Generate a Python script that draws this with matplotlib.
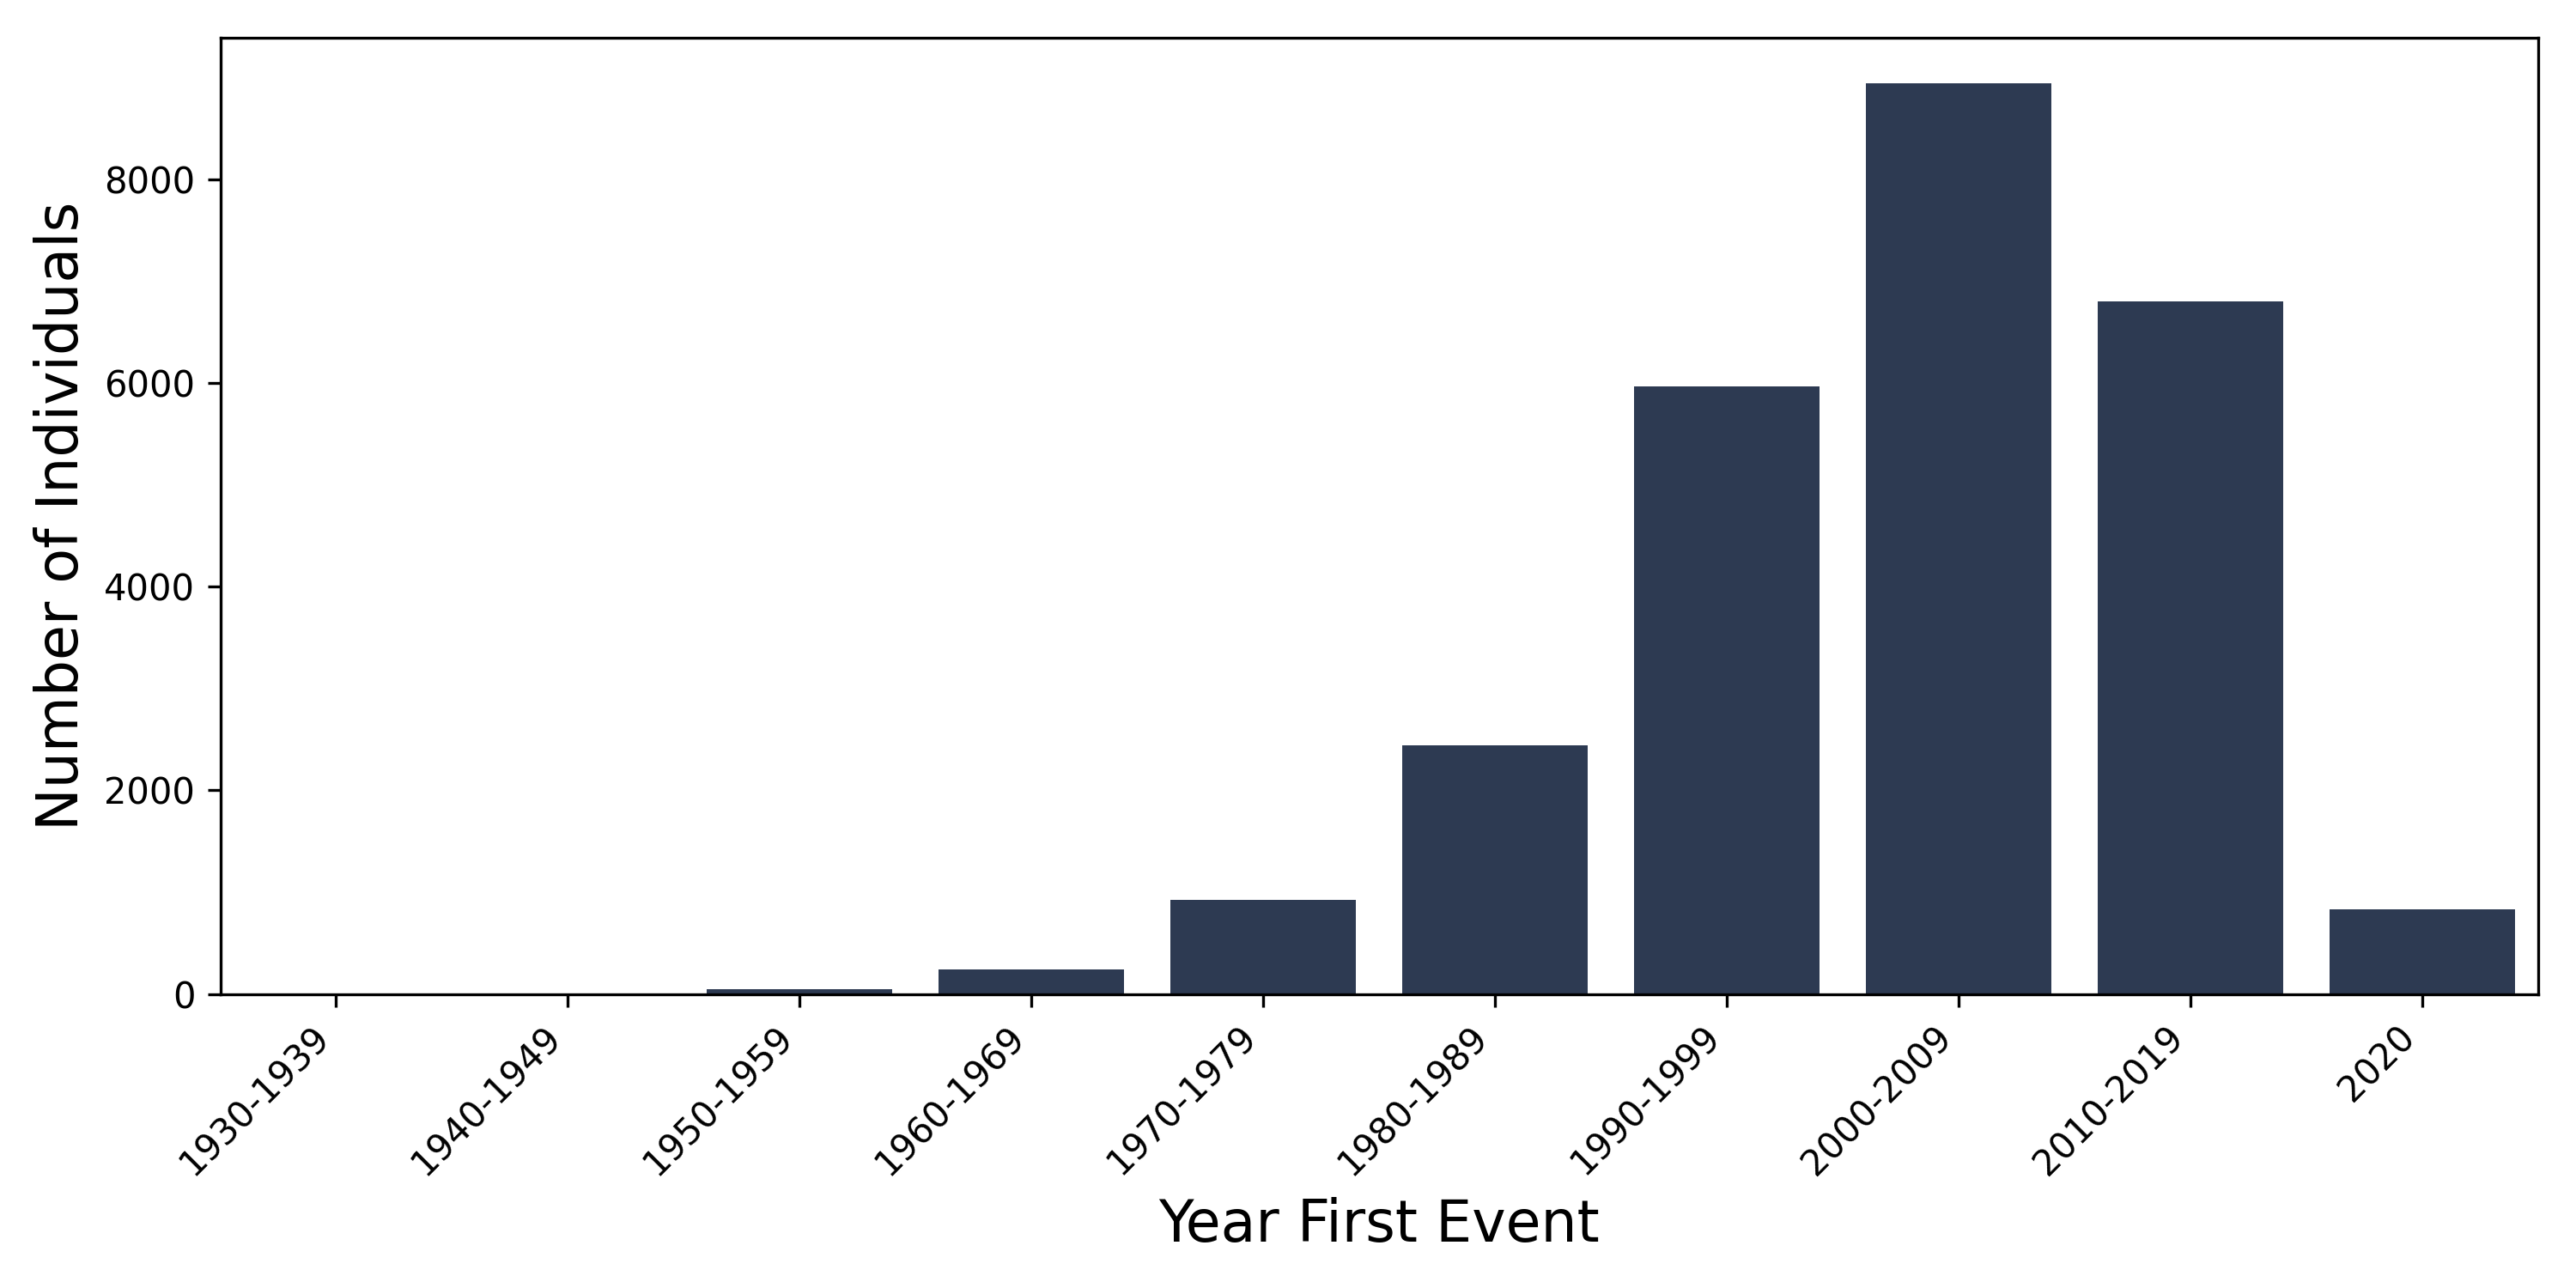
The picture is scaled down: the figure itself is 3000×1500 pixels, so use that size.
import matplotlib
matplotlib.use("Agg")
import matplotlib.pyplot as plt

# decade buckets of first event
decades = ['1930-1939', '1940-1949', '1950-1959', '1960-1969', '1970-1979',
           '1980-1989', '1990-1999', '2000-2009', '2010-2019', '2020']
counts = [1, 3, 45, 242, 921, 2440, 5965, 8947, 6801, 835]

bar_color = '#2d3a52'

fig, ax = plt.subplots(figsize=(10, 5), dpi=300)
fig.subplots_adjust(left=0.0855, right=0.9853, top=0.971, bottom=0.2283)

x = range(len(decades))
ax.bar(x, counts, width=0.8, color=bar_color)
ax.set_xlim(-0.5, len(decades) - 0.5)
ax.set_ylim(0, max(counts) * 1.05)

ax.set_xticks(list(x))
ax.set_xticklabels(decades, rotation=45, ha='right')
ax.set_xlabel('Year First Event', fontsize=16)
ax.set_ylabel('Number of Individuals', fontsize=16)

plt.savefig('out.png', dpi=300)
